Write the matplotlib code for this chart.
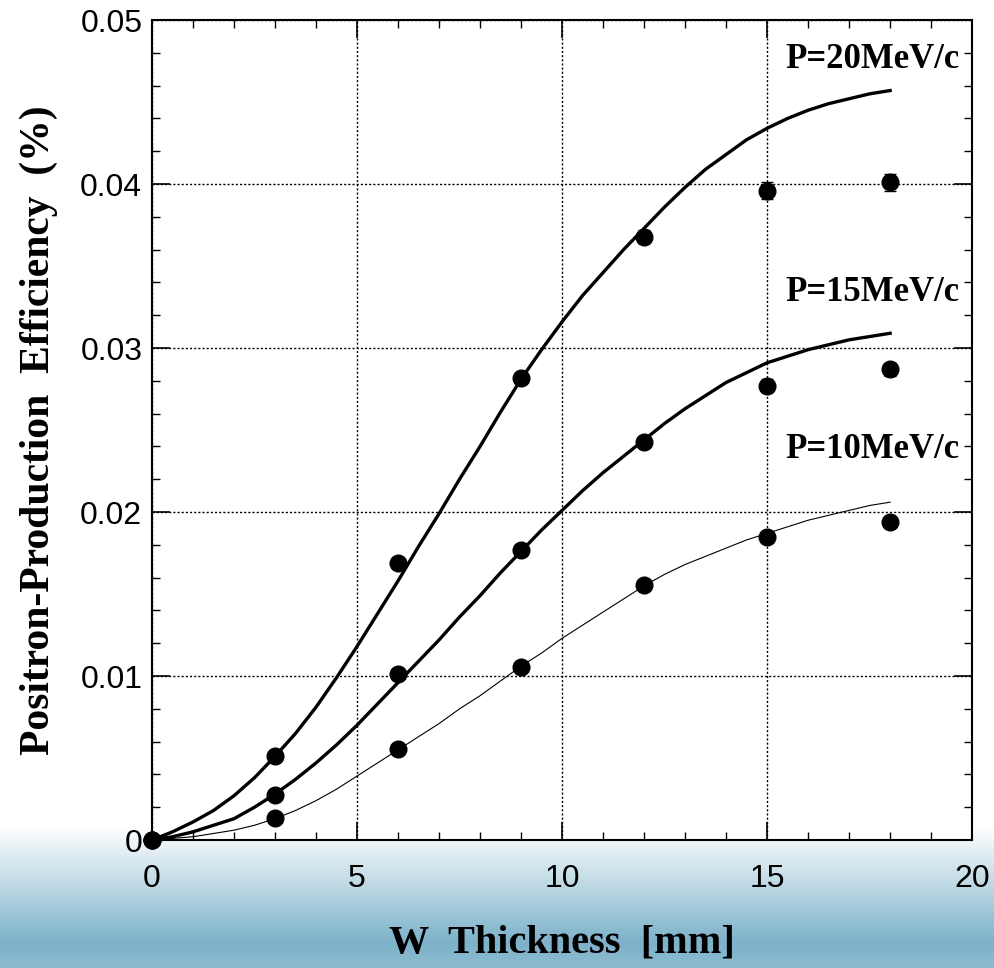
import numpy as np
import matplotlib
matplotlib.use("Agg")
import matplotlib.pyplot as plt
from matplotlib.ticker import MultipleLocator

# Measured positron-production efficiency (%) vs tungsten thickness
thickness_mm = [0, 3, 6, 9, 12, 15, 18]
eff_20 = [0.0, 0.00512, 0.0169, 0.0282, 0.0368, 0.0396, 0.0401]
eff_15 = [0.0, 0.00274, 0.0101, 0.0177, 0.0243, 0.0277, 0.0287]
eff_10 = [0.0, 0.00134, 0.00555, 0.01055, 0.01555, 0.01848, 0.0194]
err_20 = [0.0, 0.0001, 0.0002, 0.0002, 0.0004, 0.0005, 0.0005]
err_15 = [0.0, 0.0001, 0.0002, 0.0002, 0.0003, 0.0004, 0.0004]
err_10 = [0.0, 0.0001, 0.0001, 0.0001, 0.0002, 0.0002, 0.0002]

# Simulation curves, sampled every 0.5 mm
curve_x = [0, 0.5, 1, 1.5, 2, 2.5, 3, 3.5, 4, 4.5, 5, 5.5, 6, 6.5, 7, 7.5, 8, 8.5, 9,
           9.5, 10, 10.5, 11, 11.5, 12, 12.5, 13, 13.5, 14, 14.5, 15, 15.5, 16, 16.5,
           17, 17.5, 18]
curve_20 = [0.0, 0.0005, 0.0011, 0.0018, 0.0027, 0.0038, 0.0051, 0.0065, 0.0081, 0.0099,
            0.0118, 0.0138, 0.0158, 0.0179, 0.0199, 0.0220, 0.0240, 0.0261, 0.0281,
            0.0299, 0.0316, 0.0332, 0.0346, 0.0360, 0.0373, 0.0386, 0.0398, 0.0409,
            0.0418, 0.0427, 0.0434, 0.0440, 0.0445, 0.0449, 0.0452, 0.0455, 0.0457]
curve_15 = [0.0, 0.0002, 0.0005, 0.0009, 0.0013, 0.0020, 0.0028, 0.0037, 0.0047, 0.0058,
            0.0070, 0.0083, 0.0096, 0.0109, 0.0122, 0.0136, 0.0149, 0.0163, 0.0176,
            0.0189, 0.0201, 0.0213, 0.0224, 0.0234, 0.0244, 0.0254, 0.0263, 0.0271,
            0.0279, 0.0285, 0.0291, 0.0295, 0.0299, 0.0302, 0.0305, 0.0307, 0.0309]
curve_10 = [0.0, 0.0001, 0.0002, 0.0004, 0.0006, 0.0009, 0.0013, 0.0018, 0.0024, 0.0031,
            0.0039, 0.0047, 0.0055, 0.0063, 0.0071, 0.0080, 0.0088, 0.0097, 0.0106,
            0.0114, 0.0123, 0.0131, 0.0139, 0.0147, 0.0155, 0.0162, 0.0168, 0.0173,
            0.0178, 0.0183, 0.0187, 0.0191, 0.0195, 0.0198, 0.0201, 0.0204, 0.0206]

labels = ["P=20MeV/c", "P=15MeV/c", "P=10MeV/c"]
label_y = [0.0476, 0.0334, 0.0238]

fig = plt.figure(figsize=(9.94, 9.68), dpi=100)
fig.patch.set_facecolor("white")

# Blue gradient band along the bottom of the figure
band = fig.add_axes([0, 0, 1, 0.145], zorder=0)
t = np.linspace(0, 1, 256)
top = np.array([1.0, 1.0, 1.0])
mid = np.array([125, 178, 202]) / 255
bot = np.array([140, 187, 208]) / 255
cols = np.empty((256, 3))
for i, v in enumerate(t):
    # v = 0 at top of band, 1 at bottom
    if v < 0.82:
        f = v / 0.82
        cols[i] = top + (mid - top) * f
    else:
        f = (v - 0.82) / 0.18
        cols[i] = mid + (bot - mid) * f
band.imshow(cols[:, None, :], aspect="auto", extent=[0, 1, 0, 1])
band.set_axis_off()

ax = fig.add_axes([0.1529, 0.1322, 0.8251, 0.8471], zorder=1)
ax.set_facecolor("white")

ax.plot(curve_x, curve_20, color="black", lw=2.4, zorder=3)
ax.plot(curve_x, curve_15, color="black", lw=2.4, zorder=3)
ax.plot(curve_x, curve_10, color="black", lw=0.8, zorder=3)

for ys, es in [(eff_20, err_20), (eff_15, err_15), (eff_10, err_10)]:
    ax.errorbar(thickness_mm, ys, yerr=es, fmt="o", color="black", ms=12,
                capsize=4.5, elinewidth=1, capthick=1, zorder=4, clip_on=False)

for lab, y in zip(labels, label_y):
    ax.text(19.7, y, lab, ha="right", va="center", fontsize=25,
            fontweight="bold", family="Liberation Serif", zorder=5)

ax.set_xlim(0, 20)
ax.set_ylim(0, 0.05)
ax.xaxis.set_minor_locator(MultipleLocator(1))
ax.yaxis.set_minor_locator(MultipleLocator(0.002))
ax.set_xticks([0, 5, 10, 15, 20])
ax.set_xticklabels(["0", "5", "10", "15", "20"])
ax.set_yticks([0, 0.01, 0.02, 0.03, 0.04, 0.05])
ax.set_yticklabels(["0", "0.01", "0.02", "0.03", "0.04", "0.05"])

ax.tick_params(which="both", direction="in", top=True, right=True, color="black")
ax.tick_params(which="major", length=13, width=1.2, labelsize=23)
ax.tick_params(which="minor", length=6, width=1)
ax.tick_params(axis="y", which="major", pad=7)
ax.tick_params(axis="x", which="major", pad=17)
for lbl in ax.get_xticklabels() + ax.get_yticklabels():
    lbl.set_family("Liberation Sans")

ax.grid(True, which="major", color="black", linestyle=(0, (1.5, 1.5)), linewidth=1)
for s in ax.spines.values():
    s.set_linewidth(1.5)

ax.set_xlabel("W  Thickness  [mm]", fontsize=29, fontweight="bold",
              family="Liberation Serif", labelpad=22)
ax.set_ylabel("Positron-Production  Efficiency  (%)", fontsize=30,
              fontweight="bold", family="Liberation Serif", labelpad=16)

fig.savefig("out.png", dpi=100)
